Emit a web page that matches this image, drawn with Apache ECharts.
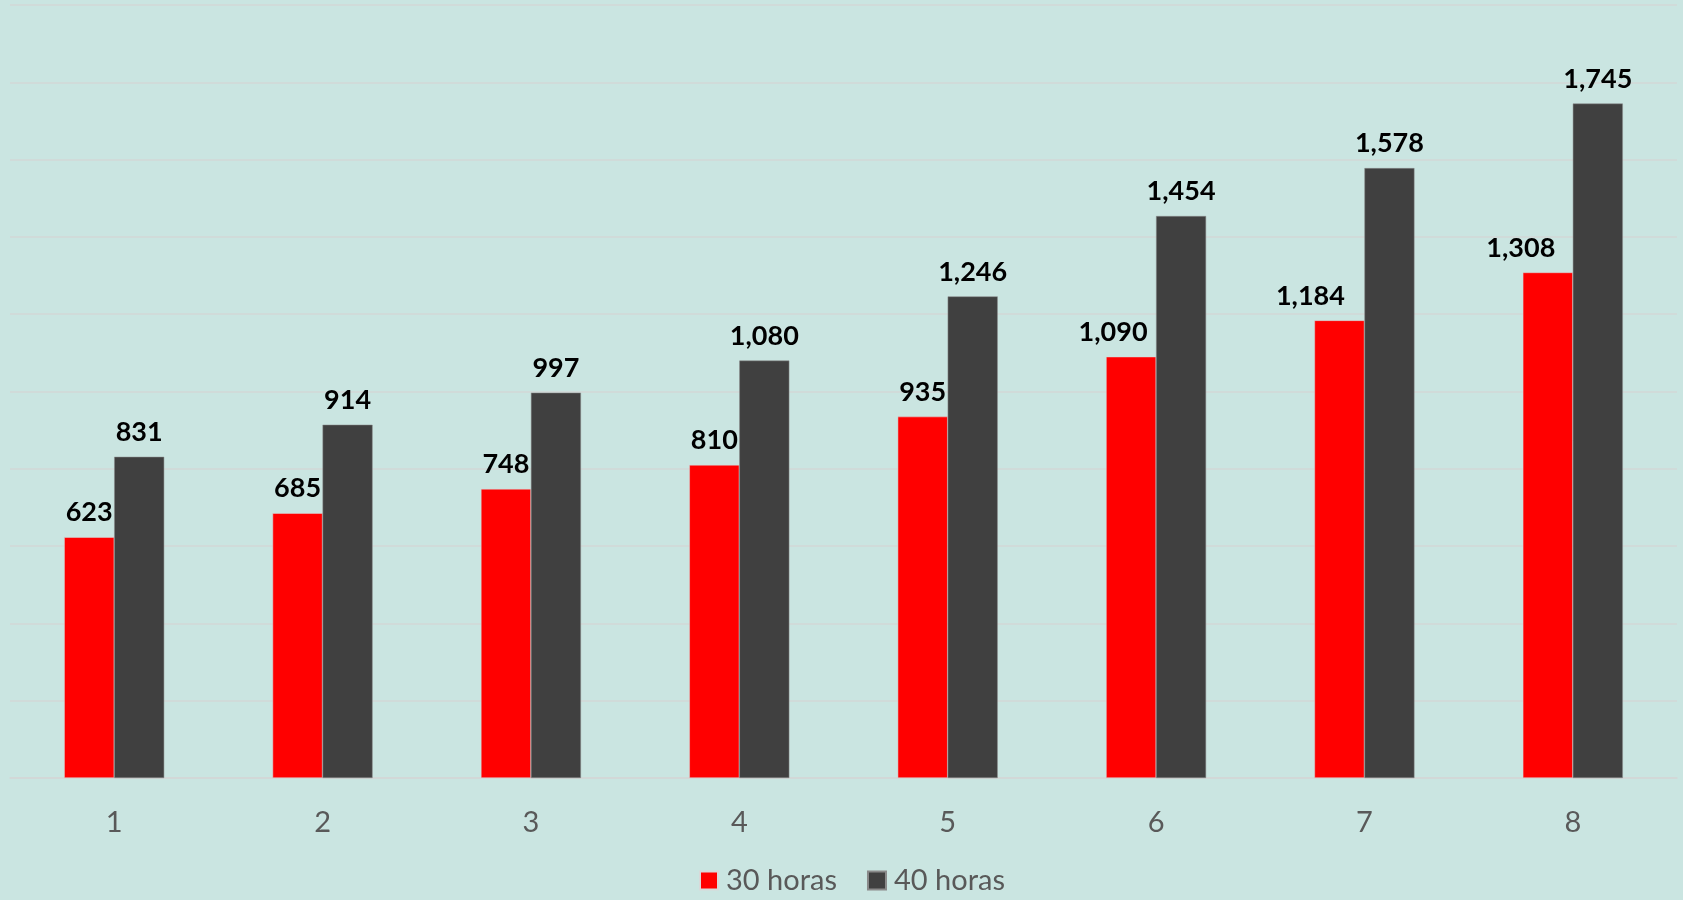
<!DOCTYPE html>
<html>
<head>
<meta charset="utf-8">
<script src="https://cdn.jsdelivr.net/npm/echarts@6/dist/echarts.min.js"></script>
<style>
  html, body { margin: 0; padding: 0; background: #cae5e1; }
  #chart { width: 1683px; height: 900px; }
</style>
</head>
<body>
<div id="chart"></div>
<script>
// data
var categories = ["1", "2", "3", "4", "5", "6", "7", "8"];
var horas30 = [623, 685, 748, 810, 935, 1090, 1184, 1308];
var horas40 = [831, 914, 997, 1080, 1246, 1454, 1578, 1745];
var seriesNames = ["30 horas", "40 horas"];

var myChart = echarts.init(document.getElementById("chart"));

// red labels with 4 digits are pushed left in the original
var redShift = { 5: -18, 6: -29, 7: -27 };
var redData = horas30.map(function (v, i) {
    var item = { value: v };
    if (redShift[i] !== undefined) {
        item.label = { offset: [redShift[i], 0] };
    }
    return item;
});

var labelStyle = {
    show: true,
    position: "top",
    distance: 11,
    color: "#000",
    fontWeight: "bold",
    fontSize: 27,
    fontFamily: "Lato",
    formatter: function (p) {
        return p.value.toLocaleString("en-US");
    }
};

var option = {
    backgroundColor: "#cae5e1",
    animation: false,
    textStyle: { fontFamily: "Lato" },
    grid: {
        left: 10,
        right: 6,
        top: 5,
        bottom: 122
    },
    legend: {
        bottom: 0,
        left: 694,
        itemWidth: 18,
        itemHeight: 18,
        itemGap: 30,
        icon: "rect",
        textStyle: { color: "#595959", fontSize: 29, fontFamily: "Lato", padding: [0, 0, 0, 3] },
        data: seriesNames
    },
    xAxis: {
        type: "category",
        data: categories,
        axisLine: { lineStyle: { color: "#d2d7d6", width: 1.5 } },
        axisTick: { show: false },
        axisLabel: {
            color: "#595959",
            fontSize: 29,
            margin: 30,
            fontFamily: "Lato"
        }
    },
    yAxis: {
        type: "value",
        min: 0,
        max: 2000,
        interval: 200,
        axisLabel: { show: false },
        axisLine: { show: false },
        axisTick: { show: false },
        splitLine: { lineStyle: { color: "#d2d7d6", width: 1.5 } }
    },
    series: [
        {
            name: seriesNames[0],
            type: "bar",
            data: redData,
            barWidth: 50,
            barGap: "0%",
            itemStyle: { color: "#ff0000", borderColor: "#d9d9d9", borderWidth: 0.5 },
            label: labelStyle
        },
        {
            name: seriesNames[1],
            type: "bar",
            data: horas40,
            barWidth: 50,
            itemStyle: { color: "#404040", borderColor: "#8a8a8a", borderWidth: 0.5 },
            label: labelStyle
        }
    ]
};

myChart.setOption(option);
</script>
</body>
</html>
